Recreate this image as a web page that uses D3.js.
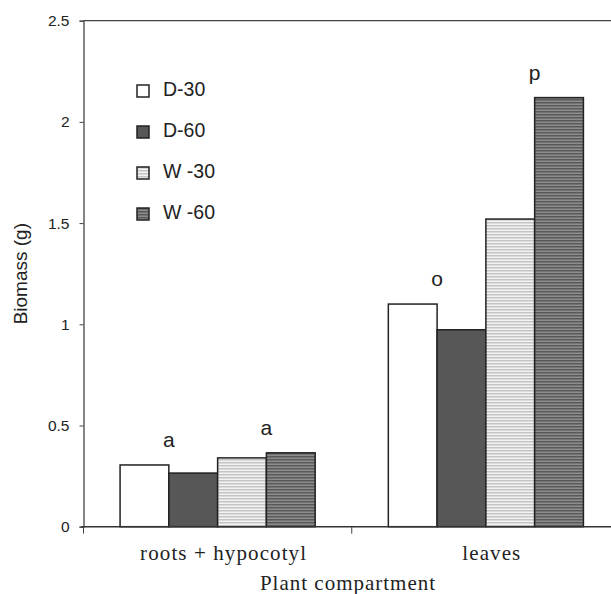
<!DOCTYPE html>
<html>
<head>
<meta charset="utf-8">
<script src="https://cdn.jsdelivr.net/npm/d3@7"></script>
<style>
body { margin: 0; background: #fff; }
</style>
</head>
<body>
<div class="container"></div>
<script>
const wd = 611
const ht = 594

// chart data
const compartments = ["roots + hypocotyl", "leaves"]
const treatments = ["D-30", "D-60", "W-30", "W-60"]
const legendLabels = ["D-30", "D-60", "W -30", "W -60"]
const rootsValues = [0.305, 0.265, 0.34, 0.365]
const leavesValues = [1.10, 0.973, 1.52, 2.12]
const letterGroups = [["a", "a"], ["o", "p"]] // over D pair, W pair
const yTicks = [0, 0.5, 1, 1.5, 2, 2.5]

const allValues = [rootsValues, leavesValues]

const svgC = d3.select(".container")
  .append("svg")
  .attr("width", wd)
  .attr("height", ht)

// plot edges (window.top is taken, so use pl/pr/pt/pb)
const pl = 83.5, pr = 620, pt = 20.7, pb = 526.7

const y = d3.scaleLinear().domain([0, 2.5]).range([pb, pt])
const x = d3.scaleBand().domain(compartments).range([pl, pr]).padding(0)
const xs = d3.scaleBand().domain(treatments).range([0, x.bandwidth()])
  .paddingInner(0).paddingOuter(0.75)

// stripe patterns
const defs = svgC.append("defs")
function stripes(id, c1, c2) {
  const p = defs.append("pattern").attr("id", id)
    .attr("patternUnits", "userSpaceOnUse").attr("width", 6).attr("height", 3)
  p.append("rect").attr("width", 6).attr("height", 3).attr("fill", c1)
  p.append("rect").attr("width", 6).attr("height", 1.5).attr("fill", c2)
}
stripes("w30", "#f3f3f3", "#c4c4c4")
stripes("w60", "#8c8c8c", "#5a5a5a")

const fills = {"D-30": "#ffffff", "D-60": "#575757", "W-30": "url(#w30)", "W-60": "url(#w60)"}

// top line of the frame
svgC.append("line").attr("x1", pl).attr("x2", pr).attr("y1", pt).attr("y2", pt)
  .style("stroke", "#444").style("stroke-width", "1.3px")

// bars
let barData = []
compartments.forEach((c, i) => {
  treatments.forEach((t, j) => {
    barData.push({comp: c, trt: t, val: allValues[i][j]})
  })
})

svgC.selectAll("rect.bar")
  .data(barData)
  .enter()
  .append("rect")
  .attr("class", "bar")
  .attr("x", d => x(d.comp) + xs(d.trt))
  .attr("y", d => y(d.val))
  .attr("width", xs.bandwidth())
  .attr("height", d => y(0) - y(d.val))
  .attr("fill", d => fills[d.trt])
  .style("stroke", "#222")
  .style("stroke-width", "1.5px")

// significance letters, centred over each pair of bars
let letterData = []
compartments.forEach((c, i) => {
  letterGroups[i].forEach((l, k) => {
    const b = treatments[k*2+1]
    letterData.push({
      txt: l,
      cx: x(c) + xs(b),
      top: d3.max([allValues[i][k*2], allValues[i][k*2+1]])
    })
  })
})

svgC.selectAll("text.letter")
  .data(letterData)
  .enter()
  .append("text")
  .attr("class", "letter")
  .attr("x", d => d.cx)
  .attr("y", d => y(d.top) - 18)
  .attr("text-anchor", "middle")
  .style("font-family", "'Liberation Sans', Arial, sans-serif")
  .style("font-size", "21px")
  .style("fill", "#222")
  .text(d => d.txt)

// y axis
const yAxis = svgC.append("g")
  .attr("transform", `translate(${pl},0)`)
  .call(d3.axisLeft(y).tickValues(yTicks).tickSize(4).tickPadding(10)
    .tickFormat(d => d))
yAxis.select(".domain").style("stroke", "#444").style("stroke-width", "1.3px")
yAxis.selectAll(".tick line").style("stroke", "#444")
yAxis.selectAll("text")
  .style("font-family", "'Liberation Sans', Arial, sans-serif")
  .style("font-size", "15.5px")
  .style("fill", "#222")

// x axis: ticks sit on the category boundaries
svgC.append("line").attr("x1", pl - 2).attr("x2", pr).attr("y1", pb).attr("y2", pb)
  .style("stroke", "#333").style("stroke-width", "1.5px")

const boundaries = [pl, x(compartments[1]), pr]
svgC.selectAll("line.xtick")
  .data(boundaries)
  .enter()
  .append("line")
  .attr("class", "xtick")
  .attr("x1", d => d).attr("x2", d => d)
  .attr("y1", pb).attr("y2", pb + 7)
  .style("stroke", "#444")

svgC.selectAll("text.cat")
  .data(compartments)
  .enter()
  .append("text")
  .attr("class", "cat")
  .attr("x", d => x(d) + x.bandwidth()/2 + 6)
  .attr("y", 560)
  .attr("text-anchor", "middle")
  .style("font-family", "'Liberation Serif', 'Times New Roman', serif")
  .style("font-size", "21px")
  .style("letter-spacing", "1.1px")
  .style("fill", "#222")
  .text(d => d)

svgC.append("text")
  .attr("x", 348)
  .attr("y", 590)
  .attr("text-anchor", "middle")
  .style("font-family", "'Liberation Serif', 'Times New Roman', serif")
  .style("font-size", "21px")
  .style("letter-spacing", "1px")
  .style("fill", "#222")
  .text("Plant compartment")

svgC.append("text")
  .attr("transform", `translate(27,${(pt+pb)/2}) rotate(-90)`)
  .attr("text-anchor", "middle")
  .style("font-family", "'Liberation Sans', Arial, sans-serif")
  .style("font-size", "19px")
  .style("fill", "#222")
  .text("Biomass (g)")

// legend
const legY = d3.scalePoint().domain(treatments).range([91, 214])
const leg = svgC.selectAll("g.leg")
  .data(treatments)
  .enter()
  .append("g")
  .attr("class", "leg")
  .attr("transform", d => `translate(137,${legY(d)})`)

leg.append("rect")
  .attr("x", 0).attr("y", -6)
  .attr("width", 12).attr("height", 12)
  .attr("fill", d => fills[d])
  .style("stroke", "#222")
  .style("stroke-width", "1.5px")

leg.append("text")
  .attr("x", 26)
  .attr("y", 5)
  .style("font-family", "'Liberation Sans', Arial, sans-serif")
  .style("font-size", "19.5px")
  .style("fill", "#222")
  .text((d, i) => legendLabels[i])
</script>
</body>
</html>
